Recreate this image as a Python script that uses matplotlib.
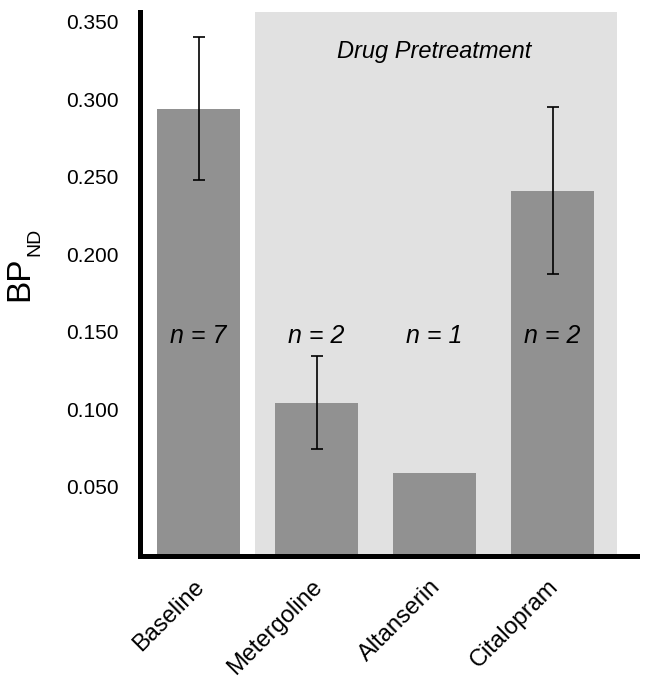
import matplotlib
matplotlib.use("Agg")
import matplotlib.pyplot as plt
import matplotlib.transforms as mtransforms

plt.rcParams["font.family"] = ["Liberation Sans", "DejaVu Sans"]

# data
groups = ["Baseline", "Metergoline", "Altanserin", "Citalopram"]
bp_nd = [0.294, 0.104, 0.059, 0.241]
bp_err = [0.046, 0.030, 0.0, 0.054]
n_labels = ["n = 7", "n = 2", "n = 1", "n = 2"]
yticks = [0.050, 0.100, 0.150, 0.200, 0.250, 0.300, 0.350]

fig = plt.figure(figsize=(6.45, 6.84), dpi=100)
ax = fig.add_axes([0.2163, 0.1871, 0.9876 - 0.2163, 0.9825 - 0.1871])

x = list(range(len(groups)))
ax.axvspan(0.479, 3.547, color="#e1e1e1", lw=0, zorder=0)
ax.bar(x, bp_nd, width=0.70, color="#919191", zorder=2)
for xi, v, e in zip(x, bp_nd, bp_err):
    if e > 0:
        ax.errorbar(xi, v, yerr=e, color="black", lw=1.2, capsize=4, capthick=1.2, zorder=3)
for xi, t in zip(x, n_labels):
    ax.text(xi, 0.147, t, ha="center", va="center", fontsize=18, style="italic", zorder=4)
ax.text(2.0, 0.3308, "Drug Pretreatment", ha="center", va="center", fontsize=17, style="italic", zorder=4)

ax.set_xlim(-0.5, 3.716)
ax.set_ylim(0.0051, 0.3564)
ax.set_yticks(yticks)
ax.set_yticklabels([f"{t:.3f}" for t in yticks], fontsize=15)
ax.set_xticks(x)
ax.set_xticklabels(groups, fontsize=17, rotation=45, ha="right", va="top", rotation_mode="anchor")
ax.tick_params(axis="both", length=0)
ax.tick_params(axis="y", pad=15)
ax.tick_params(axis="x", pad=14)
off = mtransforms.ScaledTranslation(-5.5 / 100, 0, fig.dpi_scale_trans)
for lbl in ax.get_xticklabels():
    lbl.set_transform(lbl.get_transform() + off)

for s in ["top", "right"]:
    ax.spines[s].set_visible(False)
for s in ["left", "bottom"]:
    ax.spines[s].set_linewidth(3.6)
    ax.spines[s].set_zorder(5)

fig.text(0.0310, 0.5928, "BP", rotation=90, ha="center", va="center", fontsize=24)
fig.text(0.0535, 0.6462, "ND", rotation=90, ha="center", va="center", fontsize=14)

fig.savefig("out.png", dpi=100)
